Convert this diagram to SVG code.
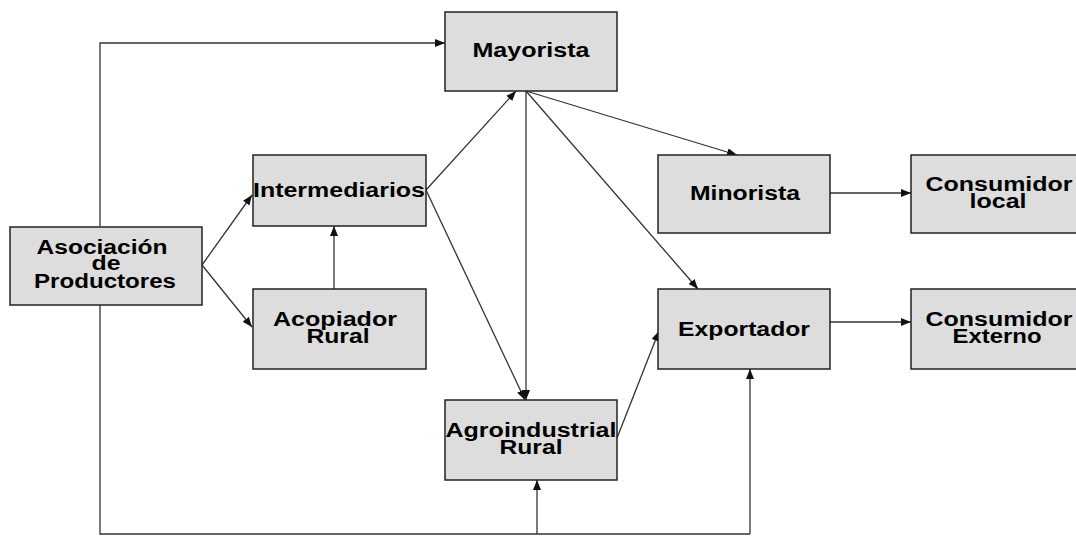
<svg xmlns="http://www.w3.org/2000/svg" width="1076" height="536" viewBox="0 0 1076 536">
<defs>
<marker id="ah" viewBox="0 0 10 8" refX="10" refY="4" markerWidth="10" markerHeight="8" markerUnits="userSpaceOnUse" orient="auto">
<path d="M0,0 L10,4 L0,8 Z" fill="#111"/>
</marker>
</defs>
<style>
.box{fill:#dddddd;stroke:#222;stroke-width:1.5}
.lbl{font-family:"Liberation Sans",Arial,sans-serif;font-weight:bold;font-size:19.5px;fill:#000;text-anchor:middle}
.c{fill:none;stroke:#333;stroke-width:1.3}
.a{marker-end:url(#ah)}
</style>
<rect width="1076" height="536" fill="#fff"/>
<g id="connectors">
<path class="c a" d="M100,226 V43 H445"/>
<path class="c a" d="M202,265 L252,195"/>
<path class="c a" d="M202,265 L252,327"/>
<path class="c a" d="M334,289 V226"/>
<path class="c a" d="M426,190 L516,91"/>
<path class="c a" d="M426,190 L525,400"/>
<path class="c a" d="M526,91 V400"/>
<path class="c a" d="M526,91 L737,155"/>
<path class="c a" d="M526,91 L698,289"/>
<path class="c a" d="M617,438 L659,331"/>
<path class="c a" d="M830,193 H911"/>
<path class="c a" d="M830,322 H911"/>
<path class="c" d="M100,305 V534 H750"/>
<path class="c a" d="M537,534 V480"/>
<path class="c a" d="M750,534 V369"/>
</g>
<g id="mayorista">
<rect class="box" x="445" y="12" width="172" height="79"/>
<text class="lbl" x="531" y="57" textLength="117" lengthAdjust="spacingAndGlyphs">Mayorista</text>
</g>
<g id="intermediarios">
<rect class="box" x="253" y="155" width="173" height="71"/>
<text class="lbl" x="339" y="197" textLength="172" lengthAdjust="spacingAndGlyphs">Intermediarios</text>
</g>
<g id="asociacion">
<rect class="box" x="10" y="227" width="192" height="78"/>
<text class="lbl" x="102" y="254" textLength="131" lengthAdjust="spacingAndGlyphs">Asociación</text>
<text class="lbl" x="106" y="270" textLength="29" lengthAdjust="spacingAndGlyphs">de</text>
<text class="lbl" x="105" y="288" textLength="142" lengthAdjust="spacingAndGlyphs">Productores</text>
</g>
<g id="acopiador">
<rect class="box" x="253" y="289" width="173" height="80"/>
<text class="lbl" x="335" y="326" textLength="124" lengthAdjust="spacingAndGlyphs">Acopiador</text>
<text class="lbl" x="338" y="343" textLength="63" lengthAdjust="spacingAndGlyphs">Rural</text>
</g>
<g id="agroindustrial">
<rect class="box" x="445" y="400" width="172" height="80"/>
<text class="lbl" x="531" y="437" textLength="171" lengthAdjust="spacingAndGlyphs">Agroindustrial</text>
<text class="lbl" x="531" y="454" textLength="63" lengthAdjust="spacingAndGlyphs">Rural</text>
</g>
<g id="minorista">
<rect class="box" x="658" y="155" width="172" height="78"/>
<text class="lbl" x="745" y="200" textLength="110" lengthAdjust="spacingAndGlyphs">Minorista</text>
</g>
<g id="consumidor-local">
<rect class="box" x="911" y="155" width="172" height="78"/>
<text class="lbl" x="999" y="191" textLength="147" lengthAdjust="spacingAndGlyphs">Consumidor</text>
<text class="lbl" x="998" y="208" textLength="57" lengthAdjust="spacingAndGlyphs">local</text>
</g>
<g id="exportador">
<rect class="box" x="658" y="289" width="172" height="80"/>
<text class="lbl" x="744" y="336" textLength="132" lengthAdjust="spacingAndGlyphs">Exportador</text>
</g>
<g id="consumidor-externo">
<rect class="box" x="911" y="289" width="172" height="80"/>
<text class="lbl" x="999" y="326" textLength="147" lengthAdjust="spacingAndGlyphs">Consumidor</text>
<text class="lbl" x="997" y="343" textLength="89" lengthAdjust="spacingAndGlyphs">Externo</text>
</g>
</svg>
